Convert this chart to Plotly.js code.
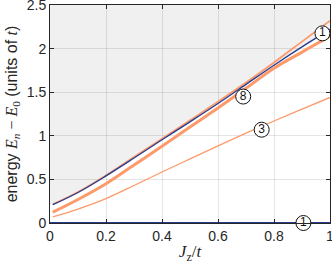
<!DOCTYPE html>
<html>
<head>
<meta charset="utf-8">
<script src="https://cdn.plot.ly/plotly-3.0.1.min.js"></script>
<style>html,body{margin:0;padding:0;background:#fff;}#chart{width:332px;height:264px;}</style>
</head>
<body>
<div id="chart"></div>
<script>
// ---- data ----
const jz = [0.01, 0.1, 0.2, 0.3, 0.4, 0.5, 0.6, 0.7, 0.8, 0.9, 1.0];
const bluePeak = [0.21, 0.35, 0.54, 0.745, 0.954, 1.16, 1.37, 1.59, 1.81, 2.02, 2.22];
const orangeTop = [0.215, 0.356, 0.547, 0.756, 0.966, 1.178, 1.39, 1.61, 1.84, 2.08, 2.32];
const orangeEight = [0.125, 0.27, 0.45, 0.665, 0.88, 1.10, 1.32, 1.545, 1.775, 1.96, 2.14];
const orangeThree = [0.07, 0.16, 0.28, 0.43, 0.585, 0.735, 0.885, 1.03, 1.17, 1.305, 1.44];
const groundX = [0, 1];
const groundY = [0, 0];
const labelX = [0.973, 0.69, 0.756, 0.905];
const labelY = [2.175, 1.45, 1.07, 0.0];
const labelText = ['1', '8', '3', '1'];
const xRange = [0, 1];
const yRange = [0, 2.5];
const xTicks = [0, 0.2, 0.4, 0.6, 0.8, 1];
const xTickText = ['0', '0.2', '0.4', '0.6', '0.8', '1'];
const yTicks = [0, 0.5, 1, 1.5, 2, 2.5];
const yTickText = ['0', '0.5', '1', '1.5', '2', '2.5'];

const BLUE = '#253c91';
const ORANGE = '#fd9a6a';

// gray continuum region above the highest level, built from the data arrays
let path = 'M ' + xRange[0] + ',' + bluePeak[0];
for (let i = 0; i < jz.length; i++) path += ' L ' + jz[i] + ',' + bluePeak[i];
path += ' L ' + xRange[1] + ',' + yRange[1] + ' L ' + xRange[0] + ',' + yRange[1] + ' Z';

const traces = [
  {x: jz, y: orangeThree, mode: 'lines', line: {color: ORANGE, width: 1.3, shape: 'spline'}, hoverinfo: 'skip'},
  {x: jz, y: orangeEight, mode: 'lines', line: {color: ORANGE, width: 3, shape: 'spline'}, hoverinfo: 'skip'},
  {x: jz, y: orangeTop, mode: 'lines', line: {color: ORANGE, width: 1.8, shape: 'spline'}, hoverinfo: 'skip'},
  {x: jz, y: bluePeak, mode: 'lines', line: {color: BLUE, width: 1.3, shape: 'spline'}, hoverinfo: 'skip'},
  {x: groundX, y: groundY, mode: 'lines', line: {color: BLUE, width: 2}, hoverinfo: 'skip', cliponaxis: false},
  {x: labelX, y: labelY, mode: 'markers+text', text: labelText, textposition: 'middle center',
   textfont: {family: 'Liberation Sans, Arial, sans-serif', size: 12, color: '#111'},
   marker: {symbol: 'circle', size: 15, color: '#fff', line: {color: '#111', width: 1}},
   cliponaxis: false, hoverinfo: 'skip'}
];

const layout = {
  width: 332, height: 264,
  margin: {l: 50, r: 2, t: 5, b: 41},
  paper_bgcolor: '#fff', plot_bgcolor: '#fff',
  showlegend: false,
  font: {family: 'Liberation Sans, Arial, Helvetica, sans-serif', size: 14, color: '#262626'},
  shapes: [{type: 'path', path: path, xref: 'x', yref: 'y', layer: 'below', fillcolor: '#f0f0f0', line: {width: 0}}],
  xaxis: {
    range: xRange, tickvals: xTicks, ticktext: xTickText, ticklabeloverflow: 'allow',
    showgrid: true, gridcolor: 'rgba(0,0,0,0.1)', gridwidth: 1, zeroline: false,
    showline: true, linecolor: '#262626', linewidth: 1, mirror: 'ticks',
    ticks: 'inside', ticklen: 4, tickcolor: '#262626',
    tickfont: {size: 14, color: '#262626'},
    title: {text: '<i>J</i><sub>z</sub>/<i>t</i>', font: {family: 'Liberation Serif, Times New Roman, serif', size: 17, color: '#262626'}, standoff: 4}
  },
  yaxis: {
    range: yRange, tickvals: yTicks, ticktext: yTickText, ticklabeloverflow: 'allow',
    showgrid: true, gridcolor: 'rgba(0,0,0,0.1)', gridwidth: 1, zeroline: false,
    showline: true, linecolor: '#262626', linewidth: 1, mirror: 'ticks',
    ticks: 'inside', ticklen: 4, tickcolor: '#262626',
    tickfont: {size: 14, color: '#262626'},
    title: {text: 'energy <span style="font-family:Liberation Serif,serif"><i>E</i><sub><i>n</i></sub> − <i>E</i><sub>0</sub></span> (units of <span style="font-family:Liberation Serif,serif"><i>t</i></span>)',
            font: {size: 16, color: '#262626'}, standoff: 5}
  }
};

Plotly.newPlot('chart', traces, layout, {staticPlot: true, displayModeBar: false});
</script>
</body>
</html>
